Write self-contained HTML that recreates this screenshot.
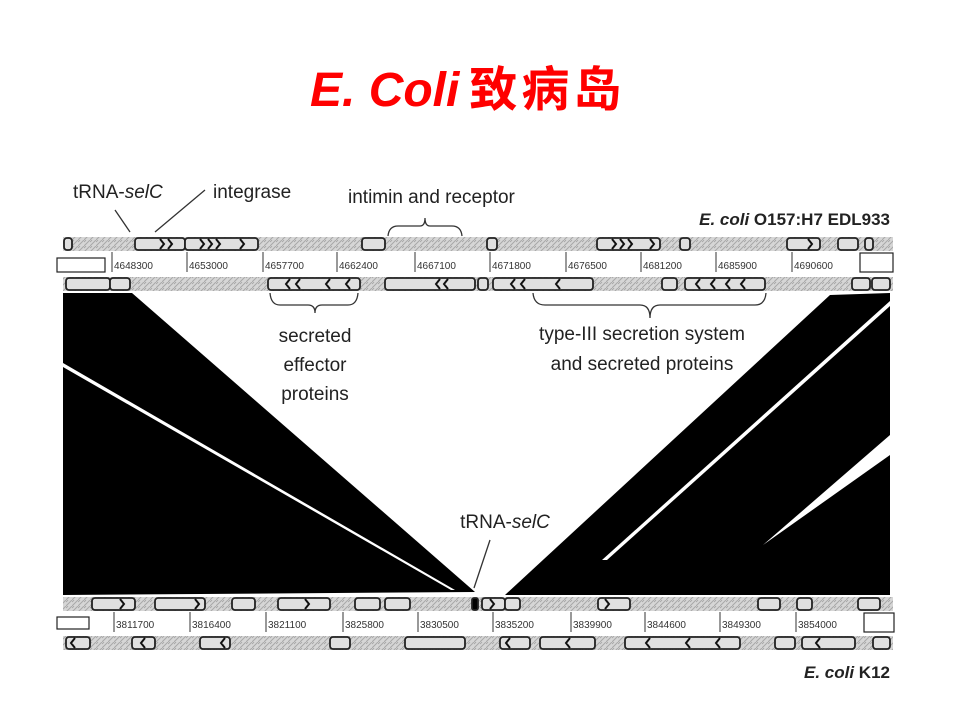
<!DOCTYPE html>
<html><head><meta charset="utf-8"><style>
html,body{margin:0;padding:0;background:#fff;}
svg{display:block}
text{font-family:"Liberation Sans","Noto Sans CJK SC",sans-serif;}
.n{font-family:"DejaVu Sans Mono","Liberation Mono",monospace;font-size:10px;fill:#333}
.l{font-size:19px;fill:#222}
</style></head><body>
<svg width="960" height="720" viewBox="0 0 960 720" xmlns="http://www.w3.org/2000/svg">
<defs>
<pattern id="h" width="6" height="6" patternUnits="userSpaceOnUse">
<rect width="6" height="6" fill="#d6d6d6"/><path d="M0 6L6 0M0 2L2 0" stroke="#a8a8a8" stroke-width="1"/>
</pattern>
</defs>
<text x="310" y="106" font-size="48" font-weight="bold" fill="#ff0000"><tspan font-style="italic">E. Coli</tspan><tspan dx="10" letter-spacing="4">致病岛</tspan></text>

<polygon points="63,293 132,293 475,592 63,595" fill="#000"/>
<polygon points="63,363 455,590 451,590 63,367" fill="#fff"/>
<polygon points="830,295 890,293 890,595 505,595" fill="#000"/>
<polygon points="890,306 607,560 602,560 890,301" fill="#fff"/>
<polygon points="890,435 763,545 890,455" fill="#fff"/>

<rect x="63" y="237" width="830" height="14" fill="url(#h)"/>
<rect x="63" y="277" width="830" height="14" fill="url(#h)"/>
<rect x="63" y="597" width="830" height="14" fill="url(#h)"/>
<rect x="63" y="636" width="830" height="14" fill="url(#h)"/>
<g fill="#e0e0e0" stroke="#222" stroke-width="1.8">
<rect x="64" y="238" width="8" height="12" rx="3"/>
<rect x="135" y="238" width="50" height="12" rx="3"/>
<rect x="185" y="238" width="73" height="12" rx="3"/>
<rect x="362" y="238" width="23" height="12" rx="3"/>
<rect x="487" y="238" width="10" height="12" rx="3"/>
<rect x="597" y="238" width="63" height="12" rx="3"/>
<rect x="680" y="238" width="10" height="12" rx="3"/>
<rect x="787" y="238" width="33" height="12" rx="3"/>
<rect x="838" y="238" width="20" height="12" rx="3"/>
<rect x="865" y="238" width="8" height="12" rx="3"/>
<rect x="66" y="278" width="44" height="12" rx="3"/>
<rect x="110" y="278" width="20" height="12" rx="3"/>
<rect x="268" y="278" width="92" height="12" rx="3"/>
<rect x="385" y="278" width="90" height="12" rx="3"/>
<rect x="478" y="278" width="10" height="12" rx="3"/>
<rect x="493" y="278" width="100" height="12" rx="3"/>
<rect x="662" y="278" width="15" height="12" rx="3"/>
<rect x="685" y="278" width="80" height="12" rx="3"/>
<rect x="852" y="278" width="18" height="12" rx="3"/>
<rect x="872" y="278" width="18" height="12" rx="3"/>
<rect x="92" y="598" width="43" height="12" rx="3"/>
<rect x="155" y="598" width="50" height="12" rx="3"/>
<rect x="232" y="598" width="23" height="12" rx="3"/>
<rect x="278" y="598" width="52" height="12" rx="3"/>
<rect x="355" y="598" width="25" height="12" rx="3"/>
<rect x="385" y="598" width="25" height="12" rx="3"/>
<rect x="472" y="598" width="6" height="12" rx="2" fill="#000"/>
<rect x="482" y="598" width="23" height="12" rx="3"/>
<rect x="505" y="598" width="15" height="12" rx="3"/>
<rect x="598" y="598" width="32" height="12" rx="3"/>
<rect x="758" y="598" width="22" height="12" rx="3"/>
<rect x="797" y="598" width="15" height="12" rx="3"/>
<rect x="858" y="598" width="22" height="12" rx="3"/>
<rect x="66" y="637" width="24" height="12" rx="3"/>
<rect x="132" y="637" width="23" height="12" rx="3"/>
<rect x="200" y="637" width="30" height="12" rx="3"/>
<rect x="330" y="637" width="20" height="12" rx="3"/>
<rect x="405" y="637" width="60" height="12" rx="3"/>
<rect x="500" y="637" width="30" height="12" rx="3"/>
<rect x="540" y="637" width="55" height="12" rx="3"/>
<rect x="625" y="637" width="115" height="12" rx="3"/>
<rect x="775" y="637" width="20" height="12" rx="3"/>
<rect x="802" y="637" width="53" height="12" rx="3"/>
<rect x="873" y="637" width="17" height="12" rx="3"/>
</g>
<g stroke="#111" stroke-width="2" fill="none">
<path d="M160 239l4 5l-4 5M168 239l4 5l-4 5M200 239l4 5l-4 5M208 239l4 5l-4 5M216 239l4 5l-4 5M240 239l4 5l-4 5M612 239l4 5l-4 5M620 239l4 5l-4 5M628 239l4 5l-4 5M650 239l4 5l-4 5M808 239l4 5l-4 5"/>
<path d="M290 279l-4 5l4 5M300 279l-4 5l4 5M330 279l-4 5l4 5M350 279l-4 5l4 5M440 279l-4 5l4 5M448 279l-4 5l4 5M515 279l-4 5l4 5M525 279l-4 5l4 5M560 279l-4 5l4 5M700 279l-4 5l4 5M715 279l-4 5l4 5M730 279l-4 5l4 5M745 279l-4 5l4 5"/>
<path d="M120 599l4 5l-4 5M195 599l4 5l-4 5M305 599l4 5l-4 5M490 599l4 5l-4 5M605 599l4 5l-4 5"/>
<path d="M75 638l-4 5l4 5M145 638l-4 5l4 5M225 638l-4 5l4 5M510 638l-4 5l4 5M570 638l-4 5l4 5M650 638l-4 5l4 5M690 638l-4 5l4 5M720 638l-4 5l4 5M820 638l-4 5l4 5"/>
</g>
<g fill="#fff" stroke="#222" stroke-width="1.2">
<rect x="57" y="258" width="48" height="14"/>
<rect x="860" y="253" width="33" height="19"/>
<rect x="57" y="617" width="32" height="12"/>
<rect x="864" y="613" width="30" height="19"/>
</g>
<g stroke="#333" stroke-width="1">
<path d="M112 252V272M187 252V272M263 252V272M337 252V272M415 252V272M490 252V272M566 252V272M641 252V272M716 252V272M792 252V272"/>
<path d="M114 612V632M190 612V632M266 612V632M343 612V632M418 612V632M493 612V632M571 612V632M645 612V632M720 612V632M796 612V632"/>
</g>
<g class="n">
<text x="114" y="269">4648300</text><text x="189" y="269">4653000</text><text x="265" y="269">4657700</text>
<text x="339" y="269">4662400</text><text x="417" y="269">4667100</text><text x="492" y="269">4671800</text>
<text x="568" y="269">4676500</text><text x="643" y="269">4681200</text><text x="718" y="269">4685900</text>
<text x="794" y="269">4690600</text>
<text x="116" y="628">3811700</text><text x="192" y="628">3816400</text><text x="268" y="628">3821100</text>
<text x="345" y="628">3825800</text><text x="420" y="628">3830500</text><text x="495" y="628">3835200</text>
<text x="573" y="628">3839900</text><text x="647" y="628">3844600</text><text x="722" y="628">3849300</text>
<text x="798" y="628">3854000</text>
</g>
<g fill="none" stroke="#333" stroke-width="1.3">
<path d="M388 236Q389 226 398 226H420Q425 226 425 218Q425 226 430 226H452Q461 226 462 236"/>
<path d="M270 293Q271 305 280 305H308Q315 305 315 313Q315 305 322 305H348Q357 305 358 293"/>
<path d="M533 293Q534 305 545 305H640Q650 305 650 318Q650 305 660 305H755Q765 305 766 293"/>
<path d="M115 210L130 232M155 232L205 190M490 540L474 588"/>
</g>
<text class="l" x="73" y="198">tRNA-<tspan font-style="italic">selC</tspan></text>
<text class="l" x="213" y="198">integrase</text>
<text class="l" x="348" y="203">intimin and receptor</text>
<text x="890" y="225" text-anchor="end" font-size="17" font-weight="bold" fill="#222"><tspan font-style="italic">E. coli</tspan> O157:H7 EDL933</text>
<g class="l" text-anchor="middle">
<text x="315" y="342">secreted</text><text x="315" y="371">effector</text><text x="315" y="400">proteins</text>
<text x="642" y="340">type-III secretion system</text><text x="642" y="370">and  secreted proteins</text>
<text x="505" y="528">tRNA-<tspan font-style="italic">selC</tspan></text>
</g>
<text x="890" y="678" text-anchor="end" font-size="17" font-weight="bold" fill="#222"><tspan font-style="italic">E. coli</tspan> K12</text>
</svg>
</body></html>
